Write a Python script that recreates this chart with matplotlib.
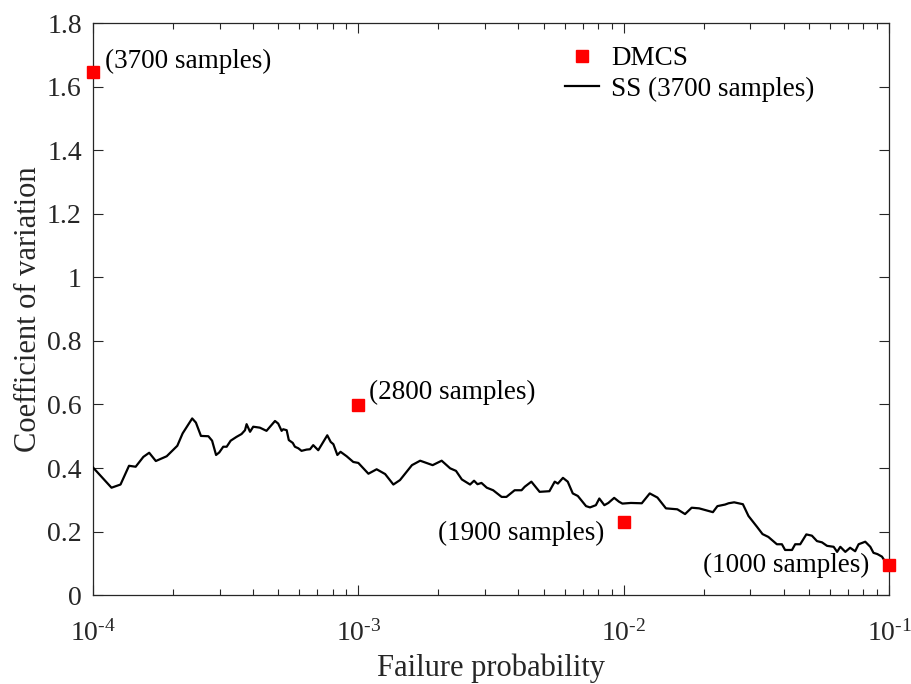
import matplotlib
matplotlib.use('Agg')
import matplotlib.pyplot as plt
from matplotlib.ticker import FuncFormatter, LogLocator, NullFormatter
import numpy as np

plt.rcParams['font.family'] = ['Liberation Serif', 'DejaVu Serif']
plt.rcParams['mathtext.fontset'] = 'custom'
plt.rcParams['mathtext.rm'] = 'Liberation Serif'
plt.rcParams['mathtext.it'] = 'Liberation Serif:italic'

# DMCS: failure probability, coefficient of variation, sample count
dmcs_pf = [1e-4, 1e-3, 1e-2, 1e-1]
dmcs_cov = [1.645, 0.598, 0.230, 0.094]
dmcs_labels = ['(3700 samples)', '(2800 samples)', '(1900 samples)', '(1000 samples)']

# SS curve: log10 of failure probability, cov
ss_log_pf = [-4.000, -3.930, -3.896, -3.864, -3.839, -3.810, -3.788, -3.763, -3.722, -3.682,
             -3.662, -3.626, -3.612, -3.593, -3.565, -3.551, -3.536, -3.524, -3.509, -3.496,
             -3.481, -3.459, -3.440, -3.427, -3.421, -3.408, -3.396, -3.371, -3.346, -3.314,
             -3.302, -3.289, -3.283, -3.270, -3.262, -3.247, -3.239, -3.226, -3.214, -3.195,
             -3.182, -3.170, -3.151, -3.132, -3.117, -3.104, -3.094, -3.079, -3.067, -3.044,
             -3.019, -3.000, -2.962, -2.931, -2.899, -2.868, -2.843, -2.798, -2.767, -2.720,
             -2.686, -2.654, -2.632, -2.610, -2.579, -2.564, -2.551, -2.536, -2.516, -2.492,
             -2.460, -2.442, -2.411, -2.385, -2.373, -2.348, -2.317, -2.280, -2.260, -2.248,
             -2.229, -2.211, -2.192, -2.173, -2.142, -2.127, -2.105, -2.092, -2.073, -2.058,
             -2.036, -2.018, -2.005, -1.973, -1.932, -1.902, -1.873, -1.841, -1.798, -1.769,
             -1.744, -1.716, -1.664, -1.647, -1.618, -1.605, -1.584, -1.551, -1.530, -1.498,
             -1.477, -1.455, -1.423, -1.404, -1.392, -1.366, -1.354, -1.335, -1.312, -1.291,
             -1.272, -1.253, -1.234, -1.209, -1.196, -1.184, -1.165, -1.147, -1.128, -1.115,
             -1.090, -1.071, -1.059, -1.044, -1.027, -1.006]
ss_cov = [0.402, 0.338, 0.348, 0.407, 0.404, 0.435, 0.448, 0.422, 0.437, 0.470,
          0.509, 0.556, 0.543, 0.501, 0.500, 0.486, 0.441, 0.449, 0.467, 0.467,
          0.486, 0.498, 0.507, 0.519, 0.538, 0.514, 0.530, 0.527, 0.517, 0.548,
          0.540, 0.517, 0.522, 0.519, 0.488, 0.479, 0.467, 0.462, 0.454, 0.458,
          0.459, 0.472, 0.456, 0.482, 0.503, 0.482, 0.475, 0.441, 0.451, 0.437,
          0.419, 0.416, 0.382, 0.396, 0.381, 0.348, 0.362, 0.409, 0.423, 0.409,
          0.423, 0.399, 0.391, 0.364, 0.348, 0.360, 0.349, 0.353, 0.338, 0.330,
          0.309, 0.309, 0.330, 0.330, 0.341, 0.357, 0.325, 0.327, 0.357, 0.351,
          0.369, 0.357, 0.320, 0.312, 0.280, 0.276, 0.283, 0.304, 0.283, 0.290,
          0.306, 0.294, 0.288, 0.290, 0.289, 0.320, 0.307, 0.273, 0.270, 0.255,
          0.275, 0.273, 0.261, 0.280, 0.285, 0.289, 0.292, 0.286, 0.249, 0.215,
          0.192, 0.183, 0.160, 0.160, 0.142, 0.142, 0.160, 0.160, 0.191, 0.187,
          0.170, 0.166, 0.155, 0.152, 0.136, 0.152, 0.136, 0.149, 0.138, 0.160,
          0.168, 0.152, 0.133, 0.129, 0.121, 0.094]
ss_pf = [10 ** v for v in ss_log_pf]

xtick_exps = ['-4', '-3', '-2', '-1']

axcol = '#262626'

fig = plt.figure(figsize=(9.11, 6.84), dpi=100)
ax = fig.add_axes([0.102, 0.130, 0.874, 0.836])

ax.plot(dmcs_pf, dmcs_cov, 's', color='#ff0000', markersize=8.5, linestyle='none',
        label='DMCS', clip_on=False, zorder=4)
ax.plot(ss_pf, ss_cov, '-', color='black', linewidth=1.6, label='SS (3700 samples)', zorder=3)

# sample-count annotations
offsets = [(12, 11, 'left'), (11, 13, 'left'), (-19, -11, 'right'), (-20, 0, 'right')]
for pf, cov, txt, (dx, dy, ha) in zip(dmcs_pf, dmcs_cov, dmcs_labels, offsets):
    ax.annotate(txt, xy=(pf, cov), xytext=(dx, dy), textcoords='offset pixels',
                ha=ha, va='center', fontsize=19.5, color='black')

ax.set_xscale('log')
ax.set_xlim(1e-4, 1e-1)
ax.set_ylim(0, 1.8)
ax.set_xticks([1e-4, 1e-3, 1e-2, 1e-1])
ax.set_xticklabels([r'$\mathregular{10^{\text{-}%s}}$' % e[1:] for e in xtick_exps])
ax.xaxis.set_minor_locator(LogLocator(base=10, subs=np.arange(2, 10)))
ax.xaxis.set_minor_formatter(NullFormatter())
ax.set_yticks(np.arange(0, 1.81, 0.2))
ax.yaxis.set_major_formatter(FuncFormatter(lambda v, p: '%g' % round(v, 2)))

ax.tick_params(which='both', direction='in', top=True, right=True, colors=axcol,
               labelsize=20, width=0.8)
ax.tick_params(which='major', length=7)
ax.tick_params(which='minor', length=4)
ax.tick_params(axis='y', which='major', pad=8)
ax.tick_params(axis='x', which='major', pad=18)
for s in ax.spines.values():
    s.set_color(axcol)
    s.set_linewidth(0.9)

ax.set_xlabel('Failure probability', fontsize=22, color=axcol, labelpad=5)
ax.set_ylabel('Coefficient of variation', fontsize=22, color=axcol, labelpad=3)

leg = ax.legend(loc='upper left', bbox_to_anchor=(0.593, 0.960), frameon=False,
                fontsize=19.5, handlelength=1.25, handletextpad=0.45, labelspacing=0.2,
                borderpad=0, borderaxespad=0)

fig.savefig('out.png', dpi=100)
